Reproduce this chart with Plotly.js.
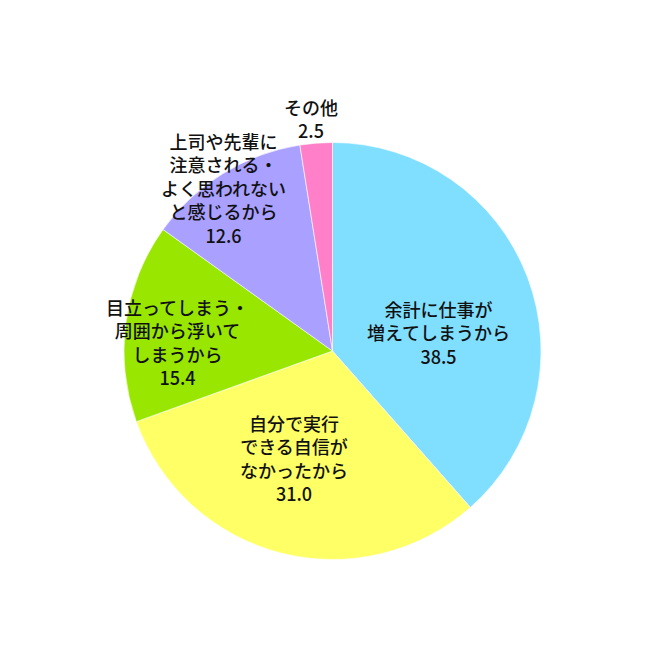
<!DOCTYPE html>
<html>
<head>
<meta charset="utf-8">
<script src="https://cdn.plot.ly/plotly-3.0.1.min.js"></script>
<style>
  html, body { margin: 0; padding: 0; background: #fff; }
  #chart { width: 650px; height: 650px; }
</style>
</head>
<body>
<div id="chart"></div>
<script>
// Reasons (clockwise from 12 o'clock) and their shares in %
const reasons = [
  "余計に仕事が<br>増えてしまうから",
  "自分で実行<br>できる自信が<br>なかったから",
  "目立ってしまう・<br>周囲から浮いて<br>しまうから",
  "上司や先輩に<br>注意される・<br>よく思われない<br>と感じるから",
  "その他",
];
const shares = [38.5, 31.0, 15.4, 12.6, 2.5];
const sliceColors = ["#80dfff", "#ffff66", "#99e600", "#a9a0ff", "#ff80c8"];

// centre of each label block, in pixels from the top-left corner
const labelPos = [[438, 332], [294, 458], [177, 342], [223, 188], [311, 118]];

const W = 650, H = 650;
const FONT = { family: "'Noto Sans CJK JP', 'Noto Sans', sans-serif", size: 18, color: "#111", weight: 500 };

const annotations = reasons.map((r, i) => ({
  text: r + "<br>" + shares[i].toFixed(1),
  xref: "paper", yref: "paper",
  x: labelPos[i][0] / W,
  y: (H - labelPos[i][1]) / H,
  xanchor: "center", yanchor: "middle",
  align: "center",
  showarrow: false,
  font: FONT,
}));

Plotly.newPlot("chart", [{
  type: "pie",
  labels: reasons,
  values: shares,
  sort: false,
  direction: "clockwise",
  rotation: 0,
  marker: { colors: sliceColors, line: { color: "#ffffff", width: 0.6 } },
  textinfo: "none",
  hoverinfo: "none",
  domain: { x: [124 / W, 541 / W], y: [90.5 / H, 507.5 / H] },
}], {
  width: W,
  height: H,
  margin: { l: 0, r: 0, t: 0, b: 0 },
  paper_bgcolor: "#ffffff",
  showlegend: false,
  annotations: annotations,
}, { displayModeBar: false, staticPlot: true });
</script>
</body>
</html>
